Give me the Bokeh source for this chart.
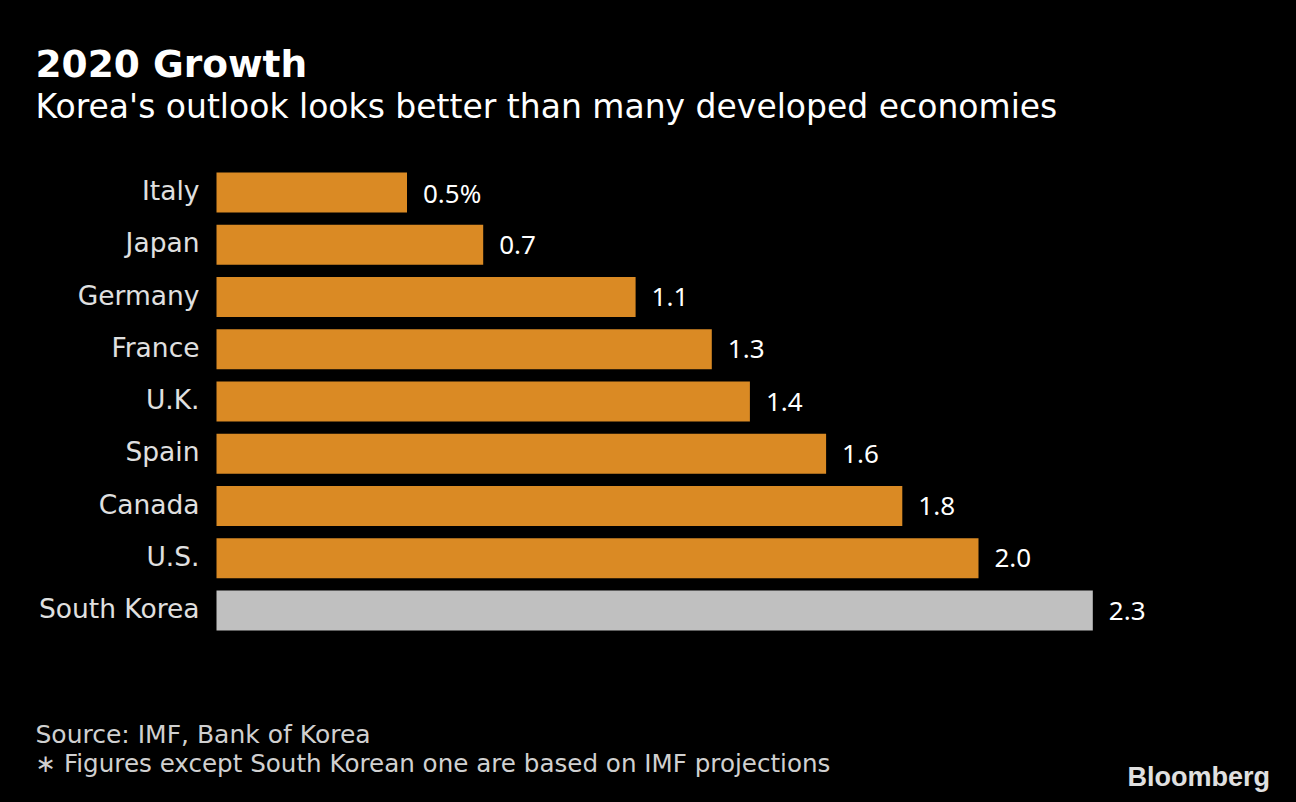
from bokeh.plotting import figure
from bokeh.models import Range1d, Label, ColumnDataSource
from bokeh.core.properties import value
from bokeh.embed import file_html
from bokeh.resources import INLINE
from jinja2 import Template

countries = ["Italy", "Japan", "Germany", "France", "U.K.", "Spain", "Canada", "U.S.", "South Korea"]
growth = [0.5, 0.7, 1.1, 1.3, 1.4, 1.6, 1.8, 2.0, 2.3]
value_labels = ["0.5%", "0.7", "1.1", "1.3", "1.4", "1.6", "1.8", "2.0", "2.3"]
bar_colors = ["#DA8A24"] * 8 + ["#C0C0C0"]

W, H = 1296, 802
x0_px, px_per_unit = 216, 381.0
y0_px, px_per_row = 192, 52.25
FONT = "DejaVu Sans"

idx = list(range(len(countries)))
src = ColumnDataSource(dict(y=idx, v=growth, c=bar_colors, name=countries, lab=value_labels,
                            lx=[g + 16 / px_per_unit for g in growth]))

p = figure(width=W, height=H, output_backend="svg", toolbar_location=None,
           x_range=Range1d(-x0_px / px_per_unit, (W - x0_px) / px_per_unit),
           y_range=Range1d((H - y0_px) / px_per_row, -y0_px / px_per_row),
           min_border=0, background_fill_color="black", border_fill_color="black",
           outline_line_color=None)
p.axis.visible = False
p.grid.visible = False

p.hbar(y="y", left=0, right="v", height=40 / px_per_row, fill_color="c", line_color=None, source=src)

p.text(x=-17 / px_per_unit, y="y", text="name", source=src, text_align="right", text_baseline="middle",
       y_offset=-2, text_font=value(FONT), text_font_size="26.5px", text_color="#E0E0E0")
p.text(x="lx", y="y", text="lab", source=src, text_align="left", text_baseline="middle",
       y_offset=0, text_font=value("Noto Sans"), text_font_size="26px", text_color="#FFFFFF")

def add_label(txt, x, ybase, size, style="normal", color="#FFFFFF", font=FONT):
    s = float(size.replace("px", ""))
    p.add_layout(Label(x=x, y=H - ybase + 0.34 * s, x_units="screen", y_units="screen", text=txt,
                       text_font=font, text_font_size=size, text_font_style=style,
                       text_color=color, text_baseline="alphabetic", text_align="left"))

add_label("2020 Growth", 35, 76, "37.5px", "bold")
add_label("Korea's outlook looks better than many developed economies", 35, 117, "33px")
add_label("Source: IMF, Bank of Korea", 35, 742, "25px", color="#D0D0D0")
add_label("\u2217 Figures except South Korean one are based on IMF projections", 35, 771, "24.6px", color="#D0D0D0")
add_label("Bloomberg", 1127, 786, "27px", "bold", color="#E0E0E0", font="Liberation Sans")

tpl = Template("""{% extends base %}
{% block preamble %}<style>html, body { margin: 0; padding: 0; background: #000; overflow: hidden; }</style>{% endblock %}""")

open("out.html", "w").write(file_html(p, INLINE, template=tpl))
